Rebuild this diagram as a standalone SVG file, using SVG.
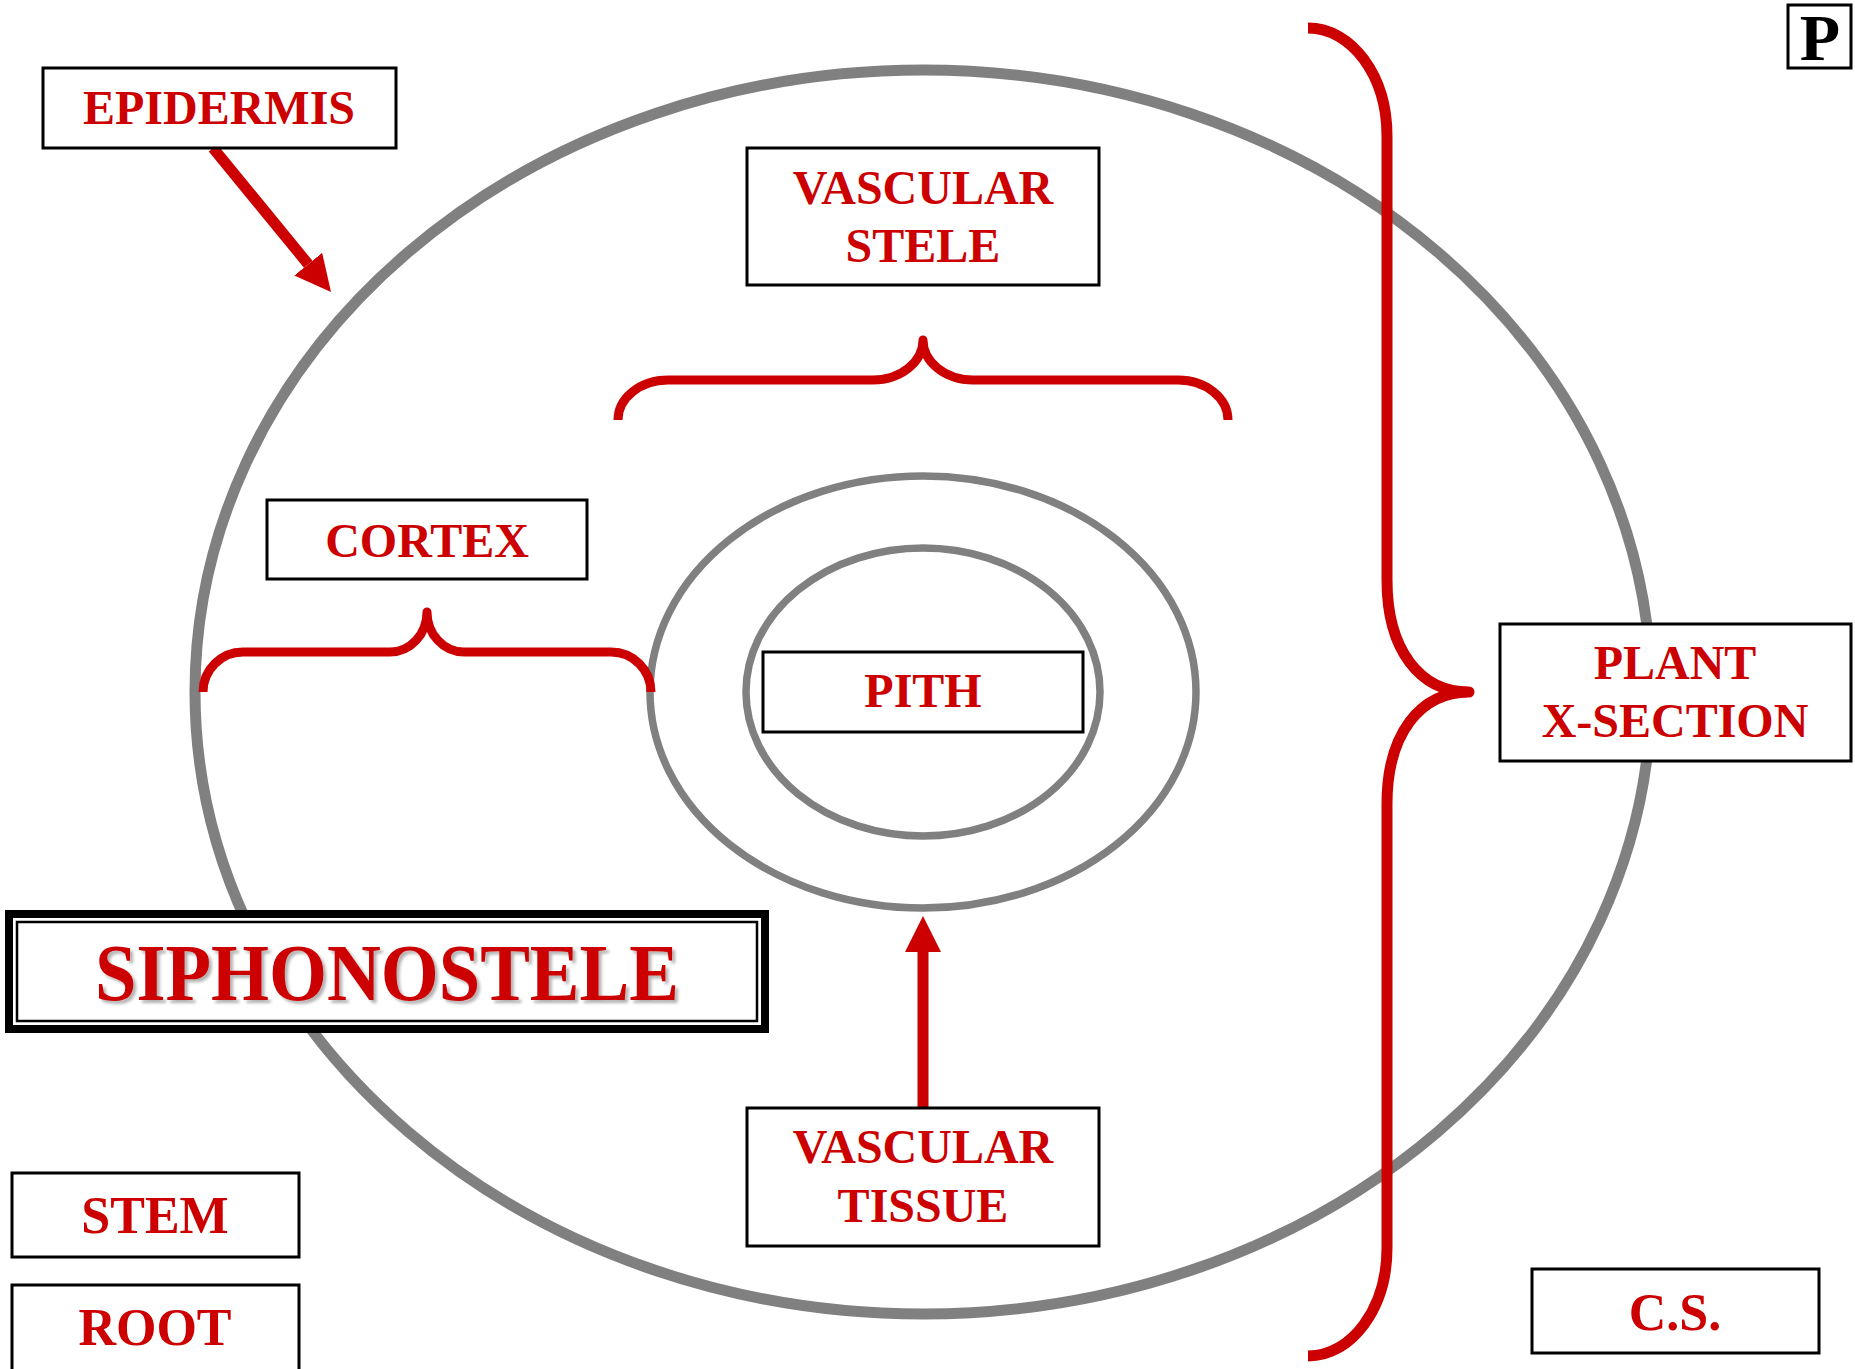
<svg xmlns="http://www.w3.org/2000/svg" width="1855" height="1369" viewBox="0 0 1855 1369">
<style>
.ring{fill:none;stroke:#808080}
.box{fill:#fff;stroke:#000;stroke-width:3}
.lbl{font-family:"Liberation Serif","Times New Roman",serif;font-weight:bold;fill:#cc0000;text-anchor:middle}
.brace{fill:none;stroke:#cc0000;stroke-linejoin:round;stroke-linecap:butt}
.conn{stroke:#cc0000;stroke-width:11;fill:none}
</style>
<defs>
<marker id="ah" viewBox="0 0 36 36" refX="0" refY="18" markerWidth="36" markerHeight="36" markerUnits="userSpaceOnUse" orient="auto">
<path d="M0,0 L36,18 L0,36 z" fill="#cc0000"/>
</marker>
<filter id="shadow" x="-5%" y="-20%" width="110%" height="140%">
<feDropShadow dx="3" dy="3" stdDeviation="1.5" flood-color="#000" flood-opacity="0.3"/>
</filter>
</defs>
<rect width="1855" height="1369" fill="#fff"/>
<g id="section">
<ellipse class="ring" cx="923" cy="692" rx="728" ry="622" stroke-width="11"/>
<ellipse class="ring" cx="923" cy="692" rx="273" ry="216" stroke-width="7.5"/>
<ellipse class="ring" cx="923" cy="692" rx="177" ry="144" stroke-width="7.5"/>
</g>
<g id="braces">
<path class="brace" stroke-width="9" d="M618,420 A50,40 0 0 1 668,380 L873,380 A50,40 0 0 0 923,340 A50,40 0 0 0 973,380 L1178,380 A50,40 0 0 1 1228,420"/>
<path class="brace" stroke-width="9" d="M203,692 A40,40 0 0 1 243,652 L390,652 A37,40 0 0 0 427,612 A37,40 0 0 0 464,652 L611,652 A40,40 0 0 1 651,692"/>
<path class="brace" stroke-width="11" d="M1308,28 C1352,28 1387,76 1387,136 L1387,580 C1387,650 1420,692 1469,692 C1420,692 1387,734 1387,804 L1387,1248 C1387,1308 1352,1356 1308,1356"/>
</g>
<g id="connectors">
<line class="conn" x1="213" y1="148" x2="308.2" y2="264.2" marker-end="url(#ah)"/>
<line class="conn" x1="923" y1="1108" x2="923" y2="952" marker-end="url(#ah)"/>
</g>
<g id="epidermis">
<rect class="box" x="43" y="68" width="353" height="80"/>
<text class="lbl" x="219" y="124" font-size="48">EPIDERMIS</text>
</g>
<g id="vascular-stele">
<rect class="box" x="747" y="148" width="352" height="137"/>
<text class="lbl" x="923" y="204" font-size="48">VASCULAR</text>
<text class="lbl" x="923" y="262" font-size="48">STELE</text>
</g>
<g id="cortex">
<rect class="box" x="267" y="500" width="320" height="79"/>
<text class="lbl" x="427" y="557" font-size="48">CORTEX</text>
</g>
<g id="pith">
<rect class="box" x="763" y="652" width="320" height="80"/>
<text class="lbl" x="923" y="707" font-size="48">PITH</text>
</g>
<g id="plant-x-section">
<rect class="box" x="1500" y="624" width="351" height="137"/>
<text class="lbl" x="1675" y="679" font-size="48">PLANT</text>
<text class="lbl" x="1675" y="737" font-size="48">X-SECTION</text>
</g>
<g id="siphonostele">
<rect x="9" y="914" width="756" height="115" fill="#fff" stroke="#000" stroke-width="8"/>
<rect x="17" y="922" width="740" height="99" fill="none" stroke="#000" stroke-width="2.5"/>
<text class="lbl" x="387" y="1000" font-size="80" textLength="584" lengthAdjust="spacingAndGlyphs" filter="url(#shadow)">SIPHONOSTELE</text>
</g>
<g id="vascular-tissue">
<rect class="box" x="747" y="1108" width="352" height="138"/>
<text class="lbl" x="923" y="1163" font-size="48">VASCULAR</text>
<text class="lbl" x="923" y="1222" font-size="48">TISSUE</text>
</g>
<g id="stem">
<rect class="box" x="12" y="1173" width="287" height="84"/>
<text class="lbl" x="155" y="1233" font-size="52">STEM</text>
</g>
<g id="root">
<rect class="box" x="12" y="1285" width="287" height="90"/>
<text class="lbl" x="155" y="1345" font-size="52">ROOT</text>
</g>
<g id="cs">
<rect class="box" x="1532" y="1269" width="287" height="84"/>
<text class="lbl" x="1675" y="1330" font-size="52">C.S.</text>
</g>
<g id="p-label">
<rect class="box" x="1788" y="5" width="63" height="63"/>
<text x="1820" y="60" font-size="66" font-family="Liberation Serif,'Times New Roman',serif" font-weight="bold" fill="#000" text-anchor="middle">P</text>
</g>
</svg>
